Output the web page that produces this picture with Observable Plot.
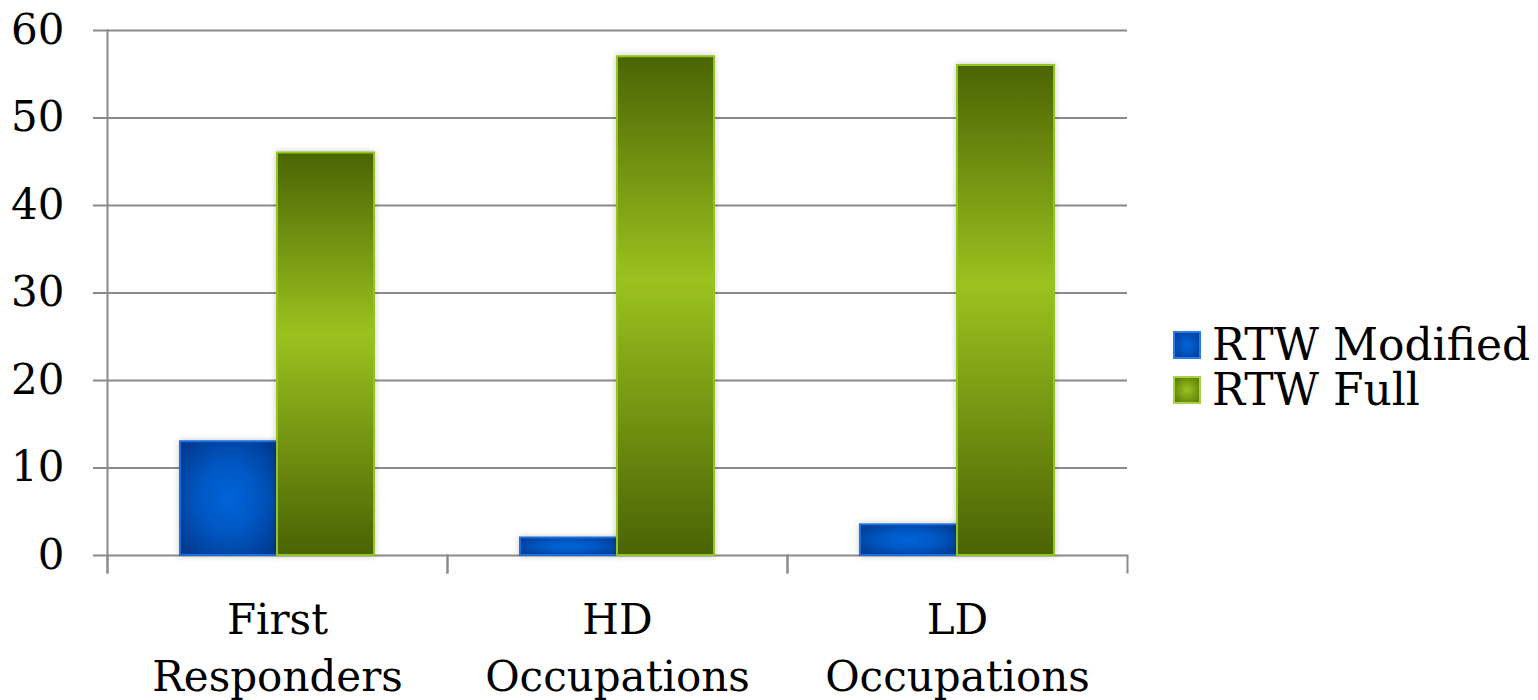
<!DOCTYPE html>
<html><head><meta charset="utf-8">
<script src="https://cdn.jsdelivr.net/npm/d3@7"></script>
<script src="https://cdn.jsdelivr.net/npm/@observablehq/plot@0.6"></script>
<style>
body{margin:0;background:#fff;font-family:"DejaVu Serif",serif;}
#wrap{position:relative;width:1538px;height:700px;overflow:hidden;}
#legend{position:absolute;left:1173px;top:322px;font-size:44px;color:#000;}
.row{display:flex;align-items:center;height:45px;line-height:45px;white-space:nowrap;}
.sw{width:28px;height:28px;margin-right:11px;box-sizing:border-box;border:2px solid;}
svg g[aria-label="bar"] rect{filter:drop-shadow(0 0 3px rgba(0,0,0,0.22));}
</style></head><body><div id="wrap"></div>
<script>
const groups = ["First\nResponders", "HD\nOccupations", "LD\nOccupations"];
const series = ["RTW Modified", "RTW Full"];
const modified = [13, 2, 3.5];
const full = [46, 57, 56];
const yTicks = [0, 10, 20, 30, 40, 50, 60];

const data = groups.flatMap((g, i) => [
  {group: g, series: series[0], value: modified[i]},
  {group: g, series: series[1], value: full[i]}
]);

const gridColor = "#8a8a8a";
const plot = Plot.plot({
  width: 1538, height: 700,
  marginLeft: 107, marginRight: 411, marginTop: 30, marginBottom: 145,
  style: {fontFamily: "DejaVu Serif", fontSize: "42px", color: "#000", background: "transparent", overflow: "visible"},
  fx: {domain: groups, padding: 0, label: null, axis: null},
  x: {domain: series, paddingInner: 0, paddingOuter: 0.744, axis: null},
  y: {domain: [0, 60], label: null},
  marks: [
    Plot.gridY({ticks: yTicks, stroke: gridColor, strokeOpacity: 1, strokeWidth: 2}),
    Plot.frame({anchor: "left", fx: groups[0], stroke: gridColor, strokeWidth: 2, insetBottom: -17}),
    Plot.frame({anchor: "left", stroke: gridColor, strokeWidth: 2, insetTop: 525, insetBottom: -17}),
    Plot.frame({anchor: "right", stroke: gridColor, strokeWidth: 2, insetTop: 525, insetBottom: -17}),
    Plot.barY(data.filter(d => d.series === series[0]), {fx: "group", x: "series", y: "value", fill: "url(#gBlue)", stroke: "#1a6fdc", strokeWidth: 2}),
    Plot.barY(data.filter(d => d.series === series[1]), {fx: "group", x: "series", y: "value", fill: "url(#gGreen)", stroke: "#93c51f", strokeWidth: 2}),
    Plot.axisY({ticks: yTicks, tickSize: 14, tickPadding: 29, stroke: gridColor, strokeWidth: 2, color: "#000", fontSize: 42, label: null, tickFormat: d => String(d)}),
    Plot.axisFx({anchor: "bottom", tickSize: 0, tickPadding: 38, fontSize: 42, lineHeight: 1.36, label: null, color: "#000"})
  ]
});

const svg = d3.select(plot);
const defs = svg.insert("defs", ":first-child");
const rg = defs.append("radialGradient").attr("id", "gBlue").attr("cx", "50%").attr("cy", "50%").attr("r", "65%");
rg.append("stop").attr("offset", "0%").attr("stop-color", "#0064d8");
rg.append("stop").attr("offset", "45%").attr("stop-color", "#0058c4");
rg.append("stop").attr("offset", "100%").attr("stop-color", "#00398f");
const lg = defs.append("linearGradient").attr("id", "gGreen").attr("x1", 0).attr("y1", 0).attr("x2", 0).attr("y2", 1);
lg.append("stop").attr("offset", "0%").attr("stop-color", "#4b6404");
lg.append("stop").attr("offset", "45%").attr("stop-color", "#9bc21f");
lg.append("stop").attr("offset", "100%").attr("stop-color", "#4a6304");

const wrap = document.getElementById("wrap");
wrap.appendChild(plot);

const legendColors = [
  {bg: "radial-gradient(circle, #0066dc 0%, #003d99 100%)", border: "#2a7de6"},
  {bg: "radial-gradient(circle, #9bc21f 0%, #5a7a06 100%)", border: "#a8d24a"}
];
const legend = document.createElement("div");
legend.id = "legend";
series.forEach((s, i) => {
  const row = document.createElement("div");
  row.className = "row";
  const sw = document.createElement("span");
  sw.className = "sw";
  sw.style.background = legendColors[i].bg;
  sw.style.borderColor = legendColors[i].border;
  const t = document.createElement("span");
  t.textContent = s;
  row.appendChild(sw); row.appendChild(t);
  legend.appendChild(row);
});
wrap.appendChild(legend);
</script>
</body></html>
